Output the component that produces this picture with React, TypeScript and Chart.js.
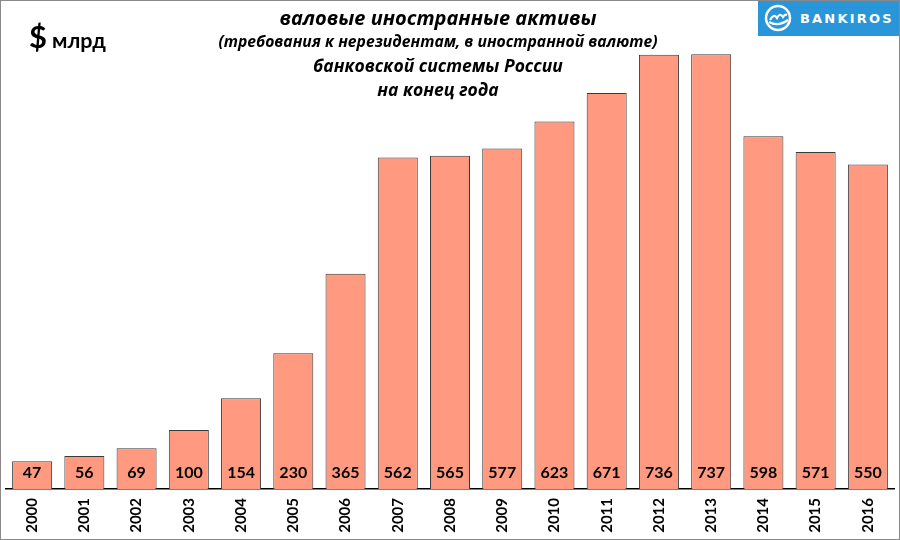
import React, { useEffect, useRef } from "react";
import { Chart, registerables } from "chart.js";

Chart.register(...registerables);

const years = ["2000","2001","2002","2003","2004","2005","2006","2007","2008","2009","2010","2011","2012","2013","2014","2015","2016"];
const assets = [47, 56, 69, 100, 154, 230, 365, 562, 565, 577, 623, 671, 736, 737, 598, 571, 550];
const titleLines = [
  "валовые иностранные активы",
  "(требования к нерезидентам, в иностранной валюте)",
  "банковской системы России",
  "на конец года",
];
const unitLabel = "млрд";
const FONT = "Lato, 'Open Sans', 'DejaVu Sans', sans-serif";
const TFONT = "'Open Sans', 'DejaVu Sans', sans-serif";

const valueLabels = {
  id: "valueLabels",
  afterDatasetsDraw(chart: any) {
    const ctx = chart.ctx;
    const meta = chart.getDatasetMeta(0);
    const base = chart.scales.y.getPixelForValue(0);
    ctx.save();
    ctx.font = `bold 16px ${FONT}`;
    ctx.fillStyle = "#000";
    ctx.textAlign = "center";
    ctx.textBaseline = "middle";
    meta.data.forEach((bar: any, i: number) => {
      ctx.fillText(String(chart.data.datasets[0].data[i]), bar.x, base - 16);
    });
    ctx.restore();
  },
};

export default function App() {
  const ref = useRef<HTMLCanvasElement>(null);
  useEffect(() => {
    document.body.style.margin = "0";
    const chart = new Chart(ref.current!, {
      type: "bar",
      data: {
        labels: years,
        datasets: [
          {
            data: assets,
            backgroundColor: "#FF9A80",
            borderColor: "#3a3a3a",
            borderWidth: 1,
            barPercentage: 0.766,
            categoryPercentage: 1,
          },
        ],
      },
      options: {
        animation: false,
        responsive: false,
        layout: { padding: { left: 6, right: 6, top: 17, bottom: 0 } },
        plugins: { legend: { display: false }, tooltip: { enabled: false } },
        scales: {
          y: { display: false, min: 0, max: 800 },
          x: {
            grid: { display: false, drawTicks: false },
            border: { display: true, color: "#000", width: 1.5 },
            ticks: {
              color: "#000",
              font: { family: FONT, weight: "bold", size: 15 },
              minRotation: 90,
              maxRotation: 90,
              padding: 9,
              autoSkip: false,
            },
            afterFit: (s: any) => {
              s.height = 51;
            },
          },
        },
      },
      plugins: [valueLabels],
    });
    return () => chart.destroy();
  }, []);

  return (
    <div style={{ position: "relative", width: 900, height: 540, background: "#fff", overflow: "hidden" }}>
      <canvas ref={ref} width={900} height={540} style={{ position: "absolute", left: 0, top: 0 }} />
      <div style={{ position: "absolute", left: 29, top: 17, fontFamily: FONT, fontWeight: 700, color: "#000", whiteSpace: "nowrap" }}>
        <span style={{ fontSize: 31 }}>$</span>
        <span style={{ fontSize: 21.5, marginLeft: 5 }}>{unitLabel}</span>
      </div>
      <div style={{ position: "absolute", left: 138, width: 600, top: 5, textAlign: "center", fontFamily: TFONT, fontWeight: 700, fontStyle: "italic", color: "#000", whiteSpace: "nowrap" }}>
        <div style={{ fontSize: 20, lineHeight: "26px" }}>{titleLines[0]}</div>
        <div style={{ fontSize: 15.7, lineHeight: "21px" }}>{titleLines[1]}</div>
        <div style={{ fontSize: 17.5, lineHeight: "24px", marginTop: 1 }}>{titleLines[2]}</div>
        <div style={{ fontSize: 17.5, lineHeight: "24px" }}>{titleLines[3]}</div>
      </div>
      <div style={{ position: "absolute", left: 758, top: 0, width: 142, height: 36, background: "#2896D9", display: "flex", alignItems: "center" }}>
        <svg width="30" height="30" viewBox="0 0 30 30" style={{ marginLeft: 5 }}>
          <circle cx="15" cy="15" r="12" fill="none" stroke="#fff" strokeWidth="2.5" />
          <path d="M7 17 Q11 10 14 15 Q17 9 20 14 Q22 11 24 12" fill="none" stroke="#fff" strokeWidth="2.2" />
          <path d="M6 19 Q15 24 25 17" fill="none" stroke="#fff" strokeWidth="2.2" />
        </svg>
        <span style={{ color: "#fff", fontFamily: "'DejaVu Sans', sans-serif", fontWeight: 700, fontSize: 13, letterSpacing: 2.2, marginLeft: 7 }}>BANKIROS</span>
      </div>
      <div style={{ position: "absolute", left: 0, top: 0, width: 900, height: 540, boxSizing: "border-box", border: "1px solid #8a8a8a", pointerEvents: "none" }} />
    </div>
  );
}
